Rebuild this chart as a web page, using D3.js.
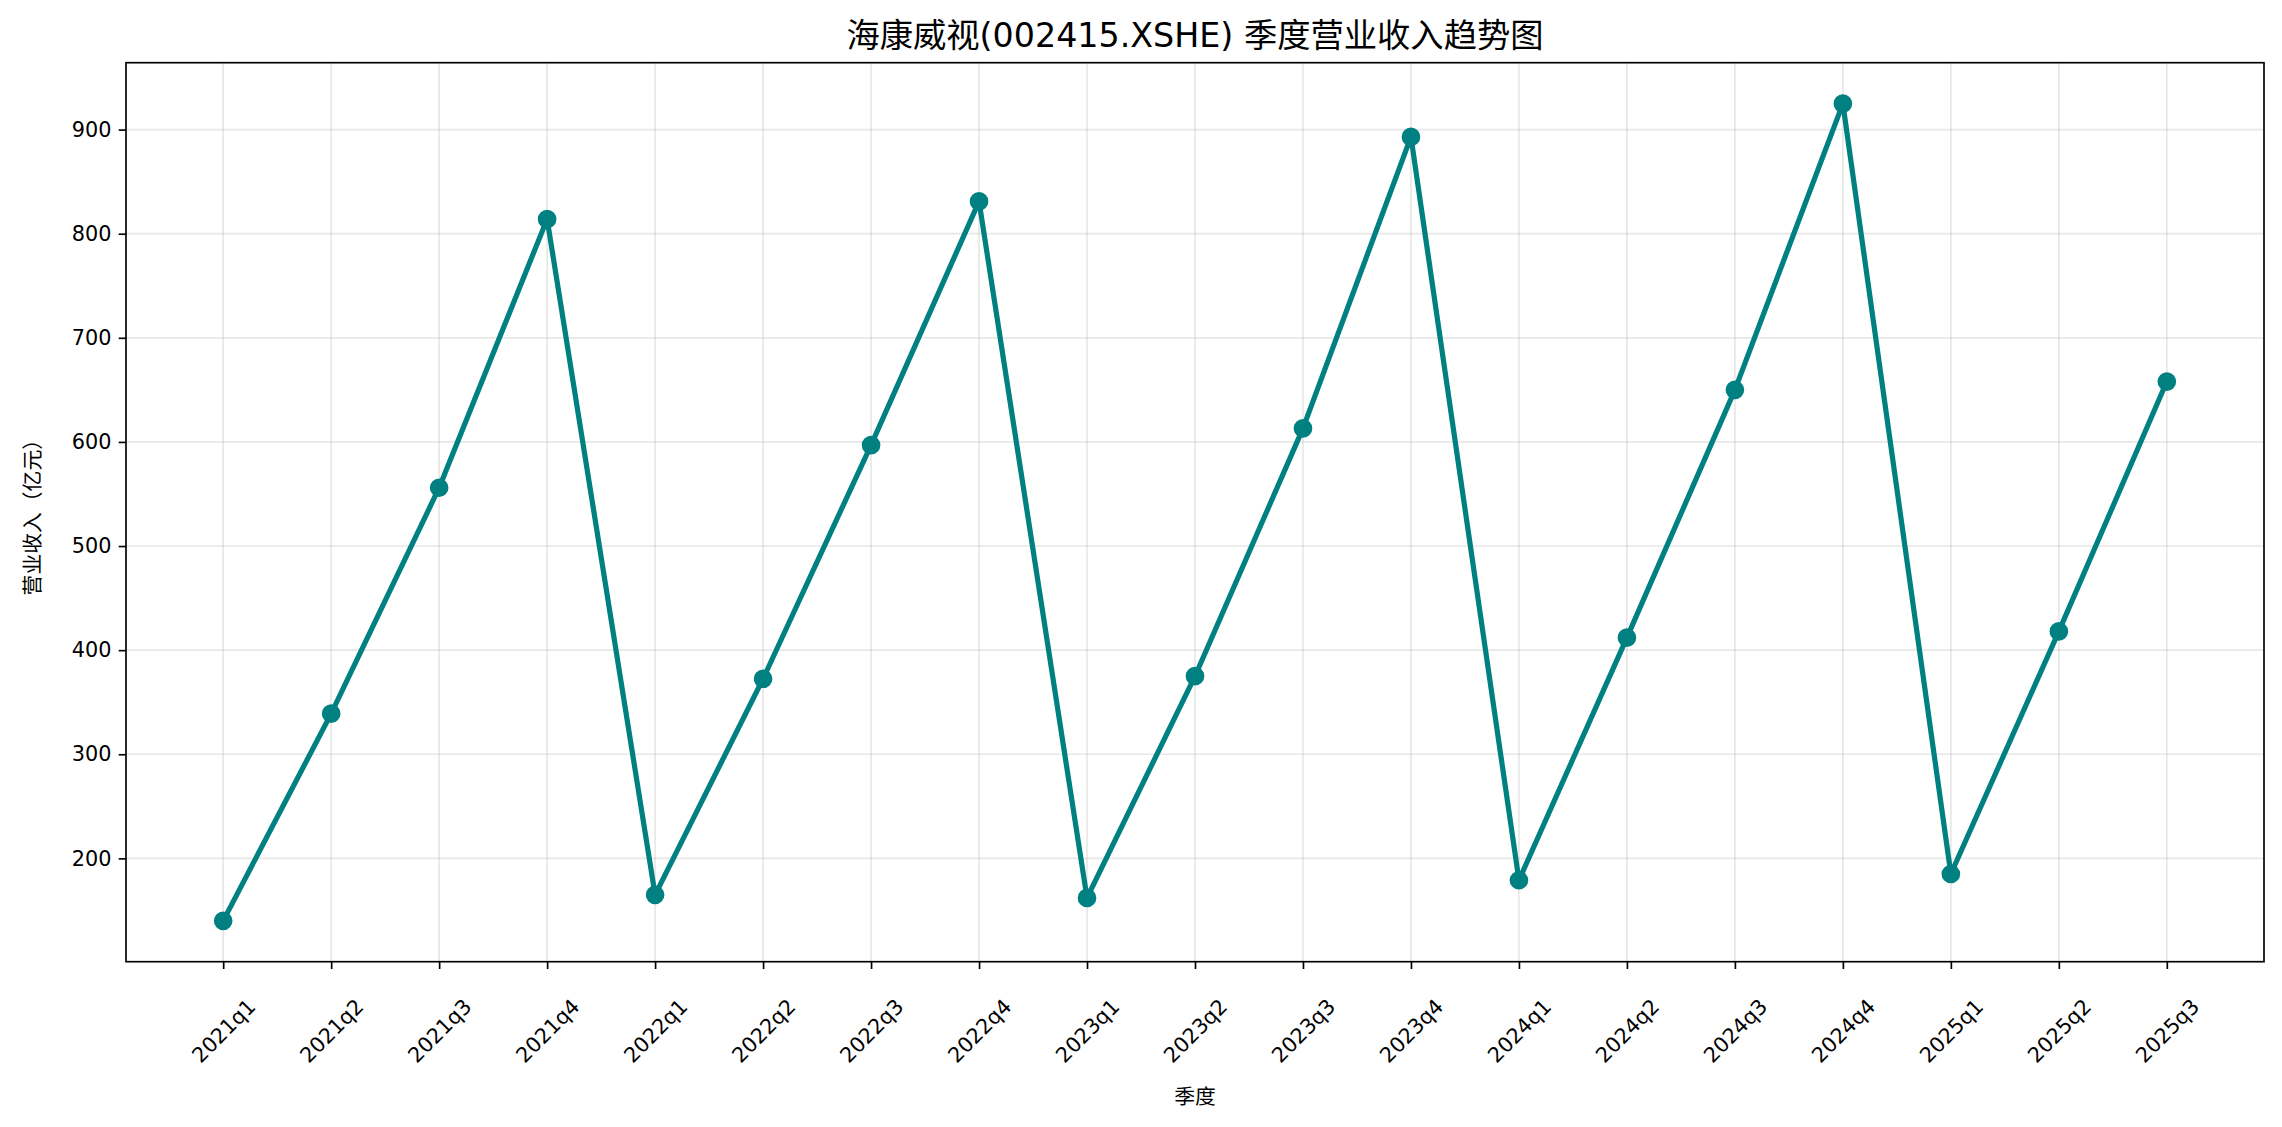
<!DOCTYPE html>
<html>
<head>
<meta charset="utf-8">
<script src="https://cdn.jsdelivr.net/npm/d3@7"></script>
<style>
  html, body { margin: 0; padding: 0; background: #ffffff; }
  svg { display: block; font-family: "DejaVu Sans", "Noto Sans CJK SC", sans-serif; }
</style>
</head>
<body>
<svg id="chart" width="2282" height="1127"></svg>
<script>
// ---- data ----
const quarters = ["2021q1","2021q2","2021q3","2021q4",
                  "2022q1","2022q2","2022q3","2022q4",
                  "2023q1","2023q2","2023q3","2023q4",
                  "2024q1","2024q2","2024q3","2024q4",
                  "2025q1","2025q2","2025q3"];
const revenue = [140, 339, 556, 814,
                 165, 372.5, 597, 831,
                 162, 375, 613, 893,
                 179, 412, 650, 925,
                 185, 418, 658];
const yTicks = [200, 300, 400, 500, 600, 700, 800, 900];
const titleText = "海康威视(002415.XSHE) 季度营业收入趋势图";
const xLabelText = "季度";
const yLabelText = "营业收入（亿元）";

// ---- layout ----
const FONT = '"DejaVu Sans", "Noto Sans CJK SC", sans-serif';
const W = 2282, H = 1127;
const margin = {left: 126, right: 18, top: 62.7, bottom: 165.3};
const pw = W - margin.left - margin.right;
const ph = H - margin.top - margin.bottom;
const px = 2.0833; // pt -> px at 150 dpi

const svg = d3.select("#chart");
svg.append("rect").attr("width", W).attr("height", H).attr("fill", "#fff");
const g = svg.append("g").attr("transform", `translate(${margin.left},${margin.top})`);

const n = quarters.length;
const x = d3.scaleLinear()
  .domain([-(n - 1) * 0.05, (n - 1) * 1.05])
  .range([0, pw]);
const ymin = d3.min(revenue), ymax = d3.max(revenue);
const ypad = (ymax - ymin) * 0.05;
const y = d3.scaleLinear()
  .domain([ymin - ypad, ymax + ypad])
  .range([ph, 0]);

// grid
const grid = g.append("g");
grid.selectAll("line.gx").data(d3.range(n)).enter().append("line")
  .attr("x1", d => x(d)).attr("x2", d => x(d))
  .attr("y1", 0).attr("y2", ph)
  .attr("stroke", "#b0b0b0").attr("stroke-opacity", 0.3)
  .attr("stroke-width", 0.8 * px);
grid.selectAll("line.gy").data(yTicks).enter().append("line")
  .attr("x1", 0).attr("x2", pw)
  .attr("y1", d => y(d)).attr("y2", d => y(d))
  .attr("stroke", "#b0b0b0").attr("stroke-opacity", 0.3)
  .attr("stroke-width", 0.8 * px);

// line
const line = d3.line().x((d, i) => x(i)).y(d => y(d));
g.append("path").datum(revenue)
  .attr("d", line)
  .attr("fill", "none")
  .attr("stroke", "#008080")
  .attr("stroke-width", 2.5 * px)
  .attr("stroke-linejoin", "round");

// markers
g.selectAll("circle.pt").data(revenue).enter().append("circle")
  .attr("cx", (d, i) => x(i)).attr("cy", d => y(d))
  .attr("r", 8.3)
  .attr("fill", "#008080")
  .attr("stroke", "#008080")
  .attr("stroke-width", 1 * px);

// axes
const tickLen = 3.5 * px;
const xAxis = d3.axisBottom(x)
  .tickValues(d3.range(n))
  .tickFormat(i => quarters[i])
  .tickSize(tickLen)
  .tickPadding(3.5 * px);
const xg = g.append("g").attr("transform", `translate(0,${ph})`).call(xAxis)
  .attr("font-family", FONT).attr("font-size", 20.8);
xg.select(".domain").remove();
xg.selectAll(".tick line").attr("stroke", "#000").attr("stroke-width", 0.8 * px);
xg.selectAll(".tick text")
  .attr("fill", "#000")
  .attr("text-anchor", "middle")
  .attr("y", 0).attr("dy", "0.35em")
  .attr("transform", "translate(0,69) rotate(-45)");

const yAxis = d3.axisLeft(y)
  .tickValues(yTicks)
  .tickFormat(d3.format("d"))
  .tickSize(tickLen)
  .tickPadding(3.5 * px);
const yg = g.append("g").call(yAxis)
  .attr("font-family", FONT).attr("font-size", 20.8);
yg.select(".domain").remove();
yg.selectAll(".tick line").attr("stroke", "#000").attr("stroke-width", 0.8 * px);
yg.selectAll(".tick text").attr("fill", "#000");

// frame
g.append("rect").attr("x", 0).attr("y", 0).attr("width", pw).attr("height", ph)
  .attr("fill", "none").attr("stroke", "#000").attr("stroke-width", 0.8 * px);

// title & labels
svg.append("text")
  .attr("x", margin.left + pw / 2).attr("y", 47)
  .attr("text-anchor", "middle")
  .attr("font-size", 33.3)
  .attr("fill", "#000")
  .text(titleText);

svg.append("text")
  .attr("x", margin.left + pw / 2).attr("y", 1104)
  .attr("text-anchor", "middle")
  .attr("font-size", 20.8)
  .attr("fill", "#000")
  .text(xLabelText);

svg.append("text")
  .attr("transform", `translate(40,${margin.top + ph / 2}) rotate(-90)`)
  .attr("text-anchor", "middle")
  .attr("font-size", 20.8)
  .attr("fill", "#000")
  .text(yLabelText);
</script>
</body>
</html>
